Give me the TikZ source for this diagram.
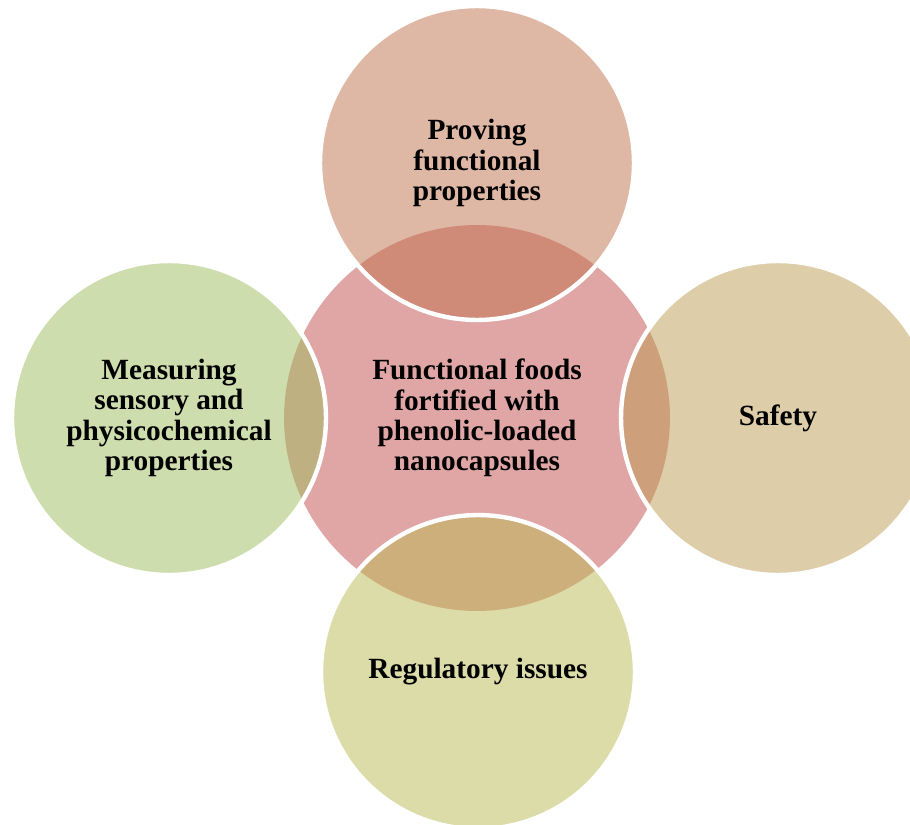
\documentclass[tikz,border=0pt]{standalone}
\usepackage{fontspec}
\setmainfont{Liberation Serif}
\newcommand{\px}{0.02cm}
\newcommand{\sat}{6.28cm}
\newcommand{\hubsize}{7.72cm}
\definecolor{hubpink}{RGB}{224,166,166}
\definecolor{provefill}{RGB}{191,113,75}
\definecolor{measurefill}{RGB}{157,187,91}
\definecolor{safetyfill}{RGB}{187,155,81}
\definecolor{regulfill}{RGB}{185,185,81}

\begin{document}
\begin{tikzpicture}[x=\px, y=-\px,
    label/.style={font=\bfseries\fontsize{16.7}{17.2}\selectfont, align=center, text=black},
    hub/.style={circle, fill=hubpink, minimum size=\hubsize, inner sep=0pt, label},
    bubble/.style={circle, minimum size=\sat, inner sep=0pt, fill opacity=0.5, text opacity=1,
        draw=white, draw opacity=1, line width=2.5pt, label}]
    \clip (0,0) rectangle (910,825);

    % Centre
    \node[hub] (hub) at (477,418) {Functional foods\\fortified with\\phenolic-loaded\\nanocapsules};

    % Satellites
    \node[bubble, fill=provefill] (prove) at (477,163) {Proving\\functional\\properties};
    \node[bubble, fill=measurefill] (measure) at (169,418) {Measuring\\sensory and\\physicochemical\\properties};
    \node[bubble, fill=safetyfill] (safety) at (778,418) {Safety};
    \node[bubble, fill=regulfill] (regul) at (478,672) {Regulatory issues};

\end{tikzpicture}
\end{document}
